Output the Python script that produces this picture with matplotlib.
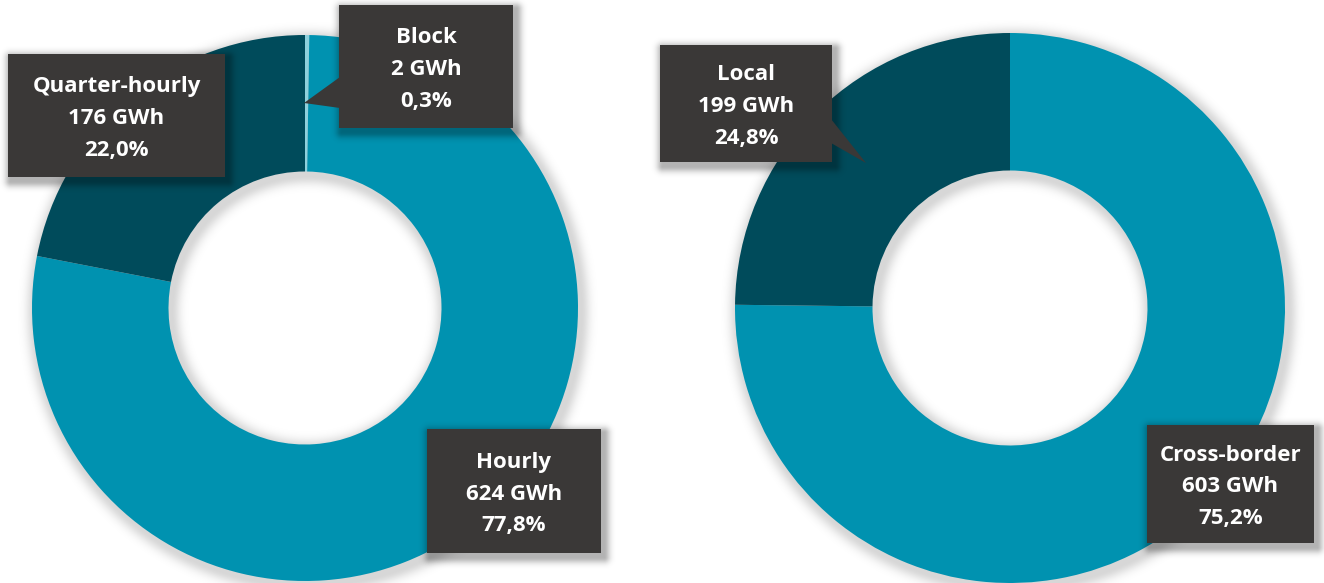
import numpy as np
import matplotlib
matplotlib.use("Agg")
import matplotlib.pyplot as plt
from matplotlib.patches import Rectangle, Polygon

# ---- data ----
left_categories = ["Block", "Hourly", "Quarter-hourly"]
left_gwh = [2, 624, 176]
left_pct = ["0,3%", "77,8%", "22,0%"]

right_categories = ["Cross-border", "Local"]
right_gwh = [603, 199]
right_pct = ["75,2%", "24,8%"]

# ---- styles ----
C_LIGHT = "#8ED0DC"
C_MID = "#0092B0"
C_DARK = "#004B5B"
C_BOX = "#3A3837"

W, H = 1324, 583
fig = plt.figure(figsize=(W / 100, H / 100), dpi=100)
ax = fig.add_axes([0, 0, 1, 1])


def Y(y):
    return H - y


donuts = [
    dict(center=(305, 308), r=273, vals=left_gwh, colors=[C_LIGHT, C_MID, C_DARK]),
    dict(center=(1010, 308), r=275, vals=right_gwh, colors=[C_MID, C_DARK]),
]
HOLE = 0.5

xx, yy = np.meshgrid(np.arange(W) + 0.5, np.arange(H) + 0.5)  # y down
SHX, SHY = 3, 4


def shadow_img(alpha):
    img = np.zeros((H, W, 4))
    img[..., 3] = alpha
    return img


a_d = np.zeros((H, W))
for d in donuts:
    cx, cy = d["center"]
    rho = np.hypot(xx - cx - SHX, yy - cy - SHY)
    dist = np.maximum(np.maximum(rho - d["r"], d["r"] * HOLE - rho), 0)
    a_d = np.maximum(a_d, 0.16 * np.exp(-(dist / 9) ** 2))
ax.imshow(shadow_img(a_d), extent=(0, W, 0, H), origin="upper", zorder=0,
          interpolation="bilinear", aspect="auto")

for d in donuts:
    cx, cy = d["center"]
    ax.pie(d["vals"], colors=d["colors"], startangle=90, counterclock=False,
           radius=d["r"], center=(cx, Y(cy)),
           wedgeprops=dict(width=d["r"] * (1 - HOLE), linewidth=0))

boxes = [
    dict(rect=(339, 5, 513, 128), text=(left_categories[0], left_gwh[0], left_pct[0]),
         ptr=[(340, 77), (304, 103), (340, 108)]),
    dict(rect=(427, 429, 601, 553), text=(left_categories[1], left_gwh[1], left_pct[1]), ptr=None),
    dict(rect=(8, 54, 225, 177), text=(left_categories[2], left_gwh[2], left_pct[2]), ptr=None),
    dict(rect=(1147, 425, 1314, 543), text=(right_categories[0], right_gwh[0], right_pct[0]), ptr=None),
    dict(rect=(660, 45, 832, 162), text=(right_categories[1], right_gwh[1], right_pct[1]),
         ptr=[(831, 119), (866, 163), (831, 143)]),
]

a_b = np.zeros((H, W))
for b in boxes:
    x0, y0, x1, y1 = b["rect"]
    cx, cy = (x0 + x1) / 2 + SHX, (y0 + y1) / 2 + SHY
    hw, hh = (x1 - x0) / 2, (y1 - y0) / 2
    dx = np.maximum(np.abs(xx - cx) - hw, 0)
    dy = np.maximum(np.abs(yy - cy) - hh, 0)
    dist = np.hypot(dx, dy)
    a_b = np.maximum(a_b, 0.3 * np.exp(-(dist / 6) ** 2))
ax.imshow(shadow_img(a_b), extent=(0, W, 0, H), origin="upper", zorder=3,
          interpolation="bilinear", aspect="auto")

for b in boxes:
    x0, y0, x1, y1 = b["rect"]
    ax.add_patch(Rectangle((x0, Y(y1)), x1 - x0, y1 - y0, facecolor=C_BOX,
                           edgecolor="none", zorder=4))
    if b["ptr"]:
        ax.add_patch(Polygon([(px, Y(py)) for px, py in b["ptr"]], closed=True,
                             facecolor=C_BOX, edgecolor="none", zorder=4))
    name, gwh, pct = b["text"]
    ax.text((x0 + x1) / 2, Y((y0 + y1) / 2 + 3), f"{name}\n{gwh} GWh\n{pct}",
            ha="center", va="center", color="white", fontsize=16,
            fontweight="bold", family=["Open Sans", "DejaVu Sans"],
            linespacing=1.66, zorder=5)

ax.set_xlim(0, W)
ax.set_ylim(0, H)
ax.set_aspect("auto")
ax.axis("off")
fig.savefig("out.png", dpi=100, facecolor="white")
